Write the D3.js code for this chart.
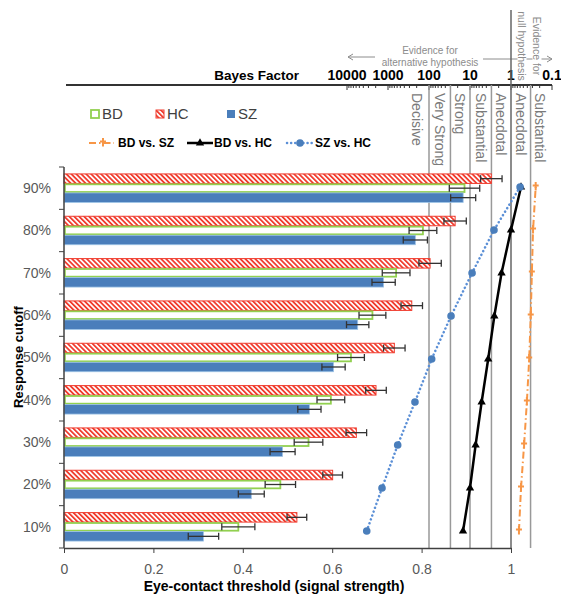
<!DOCTYPE html>
<html><head><meta charset="utf-8">
<script src="https://cdn.jsdelivr.net/npm/d3@7"></script>
<style>
body{margin:0;background:#fff}
svg{display:block}
text{font-family:"Liberation Sans",Arial,Helvetica,sans-serif}
</style>
</head><body>
<svg id="c" width="561" height="600"></svg>
<script>
// ---------- data ----------
const categories = ["10%","20%","30%","40%","50%","60%","70%","80%","90%"];
const groups = ["HC","BD","SZ"];
const HC     = [0.521,0.601,0.654,0.698,0.739,0.778,0.819,0.875,0.956];
const HC_err = [0.022,0.022,0.023,0.023,0.024,0.024,0.025,0.025,0.024];
const BD     = [0.390,0.484,0.547,0.597,0.642,0.690,0.743,0.803,0.896];
const BD_err = [0.037,0.034,0.032,0.031,0.030,0.030,0.031,0.031,0.034];
const SZ     = [0.312,0.419,0.489,0.549,0.603,0.657,0.715,0.786,0.893];
const SZ_err = [0.034,0.029,0.028,0.026,0.026,0.025,0.026,0.027,0.028];
// Bayes factors (top log axis)
const BF_BDvsSZ = [0.64,0.57,0.48,0.41,0.36,0.33,0.31,0.29,0.25];
const BF_BDvsHC = [14.8,10,7.3,5.2,3.6,2.55,1.7,1.0,0.57];
const BF_SZvsHC = [3300,1400,580,220,86,29,8.9,2.6,0.6];
const xTicks = [0,0.2,0.4,0.6,0.8,1];
const bfTickLabels = [10000,1000,100,10,1,0.1];
const zoneBounds = [100,30,10,3,1,1/3];
const zoneLabels = ["Decisive","Very Strong","Strong","Substantial","Anecdotal","Anecdotal","Substantial"];

// ---------- setup ----------
const svg = d3.select("#c");
const font = '"Liberation Sans",Arial,sans-serif';
const x  = d3.scaleLinear().domain([0,1]).range([64,511]);
const bf = d3.scaleLog().domain([0.1,10000]).range([552,347]);
const yOrder = categories.slice().reverse();
const y  = d3.scaleBand().domain(yOrder).range([167,548]);
const yIn = d3.scaleBand().domain(groups).range([0,y.bandwidth()]).paddingOuter(0.73);
const y2 = d3.scalePoint().domain(yOrder).range([187,531]);

const colors = {HC:"#f03c2e", BD:"#92d050", SZ:"#4a7ebb"};
const series = {HC:[HC,HC_err], BD:[BD,BD_err], SZ:[SZ,SZ_err]};

// hatch pattern
const defs = svg.append("defs");
const pat = defs.append("pattern").attr("id","hatch")
  .attr("patternUnits","userSpaceOnUse").attr("width",3.5).attr("height",3.5)
  .attr("patternTransform","rotate(-45)");
pat.append("rect").attr("width",3.5).attr("height",3.5).attr("fill","#fff");
pat.append("rect").attr("width",1.8).attr("height",3.5).attr("fill",colors.HC);

// ---------- top BF axis ----------
const topY = 85;
svg.append("line").attr("x1",x(0)+2).attr("x2",bf(0.1)).attr("y1",topY).attr("y2",topY)
  .attr("stroke","#333").attr("stroke-width",1.8);
const allTicks = bf.ticks();
svg.append("g").selectAll("line").data(allTicks).join("line")
  .attr("x1",d=>bf(d)).attr("x2",d=>bf(d))
  .attr("y1",topY).attr("y2",d=> bfTickLabels.includes(d)? topY+5 : topY+3)
  .attr("stroke","#333").attr("stroke-width",1);
svg.append("g").selectAll("text").data(bfTickLabels).join("text")
  .attr("x",d=>bf(d)).attr("y",topY-5).attr("text-anchor","middle")
  .attr("font-size",14).attr("font-weight","bold").attr("fill","#000")
  .text(d=> d<1 ? d3.format("~g")(d) : d3.format("d")(d));
svg.append("text").attr("x",299).attr("y",topY-5).attr("text-anchor","end")
  .attr("font-size",13.5).attr("font-weight","bold").text("Bayes Factor");

// evidence annotations
const gray = "#8c8c8c";
svg.append("text").attr("x",430).attr("y",53.5).attr("text-anchor","middle")
  .attr("font-size",10).attr("fill",gray).text("Evidence for");
svg.append("text").attr("x",430).attr("y",65.5).attr("text-anchor","middle")
  .attr("font-size",10).attr("fill",gray).text("alternative hypothesis");
svg.append("line").attr("x1",348).attr("x2",375).attr("y1",57).attr("y2",57).attr("stroke",gray);
svg.append("path").attr("d","M353,54 L348,57 L353,60").attr("fill","none").attr("stroke",gray);
svg.append("line").attr("x1",483).attr("x2",552).attr("y1",59).attr("y2",59).attr("stroke",gray);
svg.append("path").attr("d","M547,56 L552,59 L547,62").attr("fill","none").attr("stroke",gray);
[["Evidence for",537],["null hypothesis",522]].forEach(([t,xx])=>{
  svg.append("rect").attr("x",xx-4.5).attr("y",54).attr("width",9).attr("height",10).attr("fill","#fff");
  svg.append("text").attr("transform",`translate(${xx},46) rotate(90)`).attr("dy","0.35em")
    .attr("text-anchor","middle").attr("font-size",10.5).attr("fill",gray).text(t);
});

// zone boundary lines
svg.append("g").selectAll("line").data(zoneBounds).join("line")
  .attr("x1",d=>bf(d)).attr("x2",d=>bf(d))
  .attr("y1",d=> d===1 ? 10 : topY).attr("y2",548)
  .attr("stroke",d=> d===1 ? "#666" : "#999").attr("stroke-width",1.5);
const zoneCenters = zoneLabels.map((t,i)=>{
  if(i===0) return zoneBounds[0]*2;
  if(i===zoneLabels.length-1) return zoneBounds[i-1]/1.7;
  return Math.sqrt(zoneBounds[i-1]*zoneBounds[i]);
});
svg.append("g").selectAll("text").data(zoneLabels).join("text")
  .attr("transform",(d,i)=>`translate(${bf(zoneCenters[i])},93) rotate(90)`)
  .attr("dy","0.35em").attr("font-size",14).attr("fill","#7a7a7a").text(d=>d);

// ---------- bars ----------
const gBars = svg.append("g");
categories.forEach((c,i)=>{
  groups.forEach(g=>{
    const v = series[g][0][i];
    const yy = y(c)+yIn(g);
    const r = gBars.append("rect").attr("x",x(0)).attr("y",yy)
      .attr("width",x(v)-x(0)).attr("height",yIn.bandwidth());
    if(g==="HC") r.attr("fill","url(#hatch)").attr("stroke",colors.HC).attr("stroke-width",1);
    else if(g==="BD") r.attr("fill","#fff").attr("stroke",colors.BD).attr("stroke-width",1.8)
        .attr("x",x(0)+0.9).attr("width",x(v)-x(0)-0.9).attr("y",yy+0.9).attr("height",yIn.bandwidth()-1.8);
    else r.attr("fill",colors.SZ).attr("stroke","#9dc3e6").attr("stroke-width",0.8);
  });
});
// error bars
const gErr = svg.append("g").attr("stroke","#333").attr("stroke-width",1.3);
categories.forEach((c,i)=>{
  groups.forEach(g=>{
    const v = series[g][0][i], e = series[g][1][i];
    const cy = y(c)+yIn(g)+yIn.bandwidth()/2;
    const h = 3.5;
    gErr.append("line").attr("x1",x(v-e)).attr("x2",x(v+e)).attr("y1",cy).attr("y2",cy);
    gErr.append("line").attr("x1",x(v-e)).attr("x2",x(v-e)).attr("y1",cy-h).attr("y2",cy+h);
    gErr.append("line").attr("x1",x(v+e)).attr("x2",x(v+e)).attr("y1",cy-h).attr("y2",cy+h);
  });
});

// ---------- BF lines ----------
const mk = arr => categories.map((c,i)=>({c, v:arr[i]}));
const line = d3.line().x(d=>bf(d.v)).y(d=>y2(d.c));
const orange = "#f79646", blue = "#5b8fd6";
// BD vs SZ
svg.append("path").datum(mk(BF_BDvsSZ)).attr("d",line).attr("fill","none")
  .attr("stroke",orange).attr("stroke-width",2).attr("stroke-dasharray","7,3,1.5,3");
const plusPath = "M-3,-1.5 H3 M0,-5 V3.5";
svg.append("g").selectAll("path").data(mk(BF_BDvsSZ)).join("path")
  .attr("transform",d=>`translate(${bf(d.v)},${y2(d.c)})`).attr("d",plusPath)
  .attr("stroke",orange).attr("stroke-width",2).attr("fill","none");
// BD vs HC
svg.append("path").datum(mk(BF_BDvsHC)).attr("d",line).attr("fill","none")
  .attr("stroke","#000").attr("stroke-width",2.5);
const tri = d3.symbol().type(d3.symbolTriangle).size(30);
svg.append("g").selectAll("path").data(mk(BF_BDvsHC)).join("path")
  .attr("transform",d=>`translate(${bf(d.v)},${y2(d.c)})`).attr("d",tri).attr("fill","#000");
// SZ vs HC
svg.append("path").datum(mk(BF_SZvsHC)).attr("d",line).attr("fill","none")
  .attr("stroke",blue).attr("stroke-width",2.5).attr("stroke-dasharray","0.1,4")
  .attr("stroke-linecap","round");
svg.append("g").selectAll("circle").data(mk(BF_SZvsHC)).join("circle")
  .attr("cx",d=>bf(d.v)).attr("cy",d=>y2(d.c)).attr("r",3.8).attr("fill","#4a7ebb");

// ---------- axes ----------
const xAxis = d3.axisBottom(x).tickValues(xTicks).tickSize(5).tickSizeOuter(0)
  .tickPadding(11).tickFormat(d3.format("~g"));
const gx = svg.append("g").attr("transform","translate(0,548)").call(xAxis);
gx.select(".domain").attr("stroke","#404040").attr("stroke-width",1.5);
gx.selectAll(".tick line").attr("stroke","#404040");
gx.selectAll(".tick text").attr("font-size",14).attr("fill","#595959").attr("font-family",font);

// left axis
svg.append("line").attr("x1",64).attr("x2",64).attr("y1",167).attr("y2",548)
  .attr("stroke","#404040").attr("stroke-width",1.5);
const bounds = yOrder.map(c=>y(c)).concat([y.range()[1]]);
svg.append("g").selectAll("line").data(bounds).join("line")
  .attr("x1",59).attr("x2",64).attr("y1",d=>d).attr("y2",d=>d).attr("stroke","#404040");
svg.append("g").selectAll("text").data(yOrder).join("text")
  .attr("x",51).attr("y",d=>y(d)+y.bandwidth()/2).attr("dy","0.35em")
  .attr("text-anchor","end").attr("font-size",14).attr("fill","#595959").text(d=>d);

svg.append("text").attr("transform","translate(18,357) rotate(-90)").attr("dy","0.35em")
  .attr("text-anchor","middle").attr("font-size",13).attr("font-weight","bold").text("Response cutoff");
svg.append("text").attr("x",274).attr("y",591).attr("text-anchor","middle")
  .attr("font-size",14).attr("font-weight","bold").text("Eye-contact threshold (signal strength)");

// ---------- legend ----------
const lg = svg.append("g");
const leg1 = [["BD",91],["HC",156],["SZ",227]];
leg1.forEach(([g,lx])=>{
  const r = lg.append("rect").attr("x",lx).attr("y",110).attr("width",8).attr("height",8);
  if(g==="HC") r.attr("fill","url(#hatch)").attr("stroke",colors.HC);
  else if(g==="BD") r.attr("fill","#fff").attr("stroke",colors.BD).attr("stroke-width",1.8);
  else r.attr("fill",colors.SZ);
  lg.append("text").attr("x",lx+11).attr("y",114).attr("dy","0.35em")
    .attr("font-size",15).attr("fill","#404040").text(g);
});
const ly = 143;
lg.append("line").attr("x1",89).attr("x2",114).attr("y1",ly).attr("y2",ly)
  .attr("stroke",orange).attr("stroke-width",2).attr("stroke-dasharray","7,3,1.5,3");
lg.append("path").attr("transform",`translate(103,${ly})`).attr("d",plusPath)
  .attr("stroke",orange).attr("stroke-width",2).attr("fill","none");
lg.append("line").attr("x1",187).attr("x2",213).attr("y1",ly).attr("y2",ly)
  .attr("stroke","#000").attr("stroke-width",2.5);
lg.append("path").attr("transform",`translate(200,${ly})`).attr("d",tri).attr("fill","#000");
lg.append("line").attr("x1",287).attr("x2",312).attr("y1",ly).attr("y2",ly)
  .attr("stroke",blue).attr("stroke-width",2.5).attr("stroke-dasharray","0.1,4").attr("stroke-linecap","round");
lg.append("circle").attr("cx",300).attr("cy",ly).attr("r",3.8).attr("fill","#4a7ebb");
[["BD vs. SZ",118],["BD vs. HC",214],["SZ vs. HC",315]].forEach(([t,lx])=>{
  lg.append("text").attr("x",lx).attr("y",ly).attr("dy","0.35em")
    .attr("font-size",12).attr("font-weight","bold").text(t);
});
</script>
</body></html>
